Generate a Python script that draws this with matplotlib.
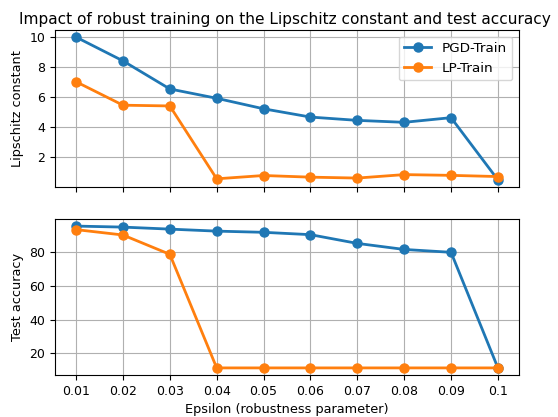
import numpy as np
import matplotlib
matplotlib.use("Agg")
import matplotlib.pyplot as plt

# Data
epsilons = [0.01, 0.02, 0.03, 0.04, 0.05, 0.06, 0.07, 0.08, 0.09, 0.1]
eps_labels = ["0.01", "0.02", "0.03", "0.04", "0.05", "0.06", "0.07", "0.08", "0.09", "0.1"]

lip_pgd = [10.0, 8.42, 6.55, 5.93, 5.23, 4.68, 4.46, 4.33, 4.64, 0.5]
lip_lp = [7.03, 5.47, 5.42, 0.57, 0.79, 0.68, 0.62, 0.85, 0.8, 0.72]

acc_pgd = [95.6, 95.0, 93.8, 92.6, 91.9, 90.5, 85.3, 81.7, 80.0, 11.2]
acc_lp = [93.5, 90.3, 78.8, 11.2, 11.2, 11.2, 11.2, 11.2, 11.2, 11.2]

W, H = 558, 417


def main():
    plt.rcParams["font.size"] = 9
    fig = plt.figure(figsize=(W / 100, H / 100), dpi=100)
    ax1 = fig.add_axes([55 / W, 1 - 187 / H, 464 / W, 157 / H])
    ax2 = fig.add_axes([55 / W, 1 - 375 / H, 464 / W, 156 / H], sharex=ax1)

    ax1.plot(epsilons, lip_pgd, marker="o", linewidth=2, markersize=6.5, label="PGD-Train")
    ax1.plot(epsilons, lip_lp, marker="o", linewidth=2, markersize=6.5, label="LP-Train")
    ax1.set_ylabel("Lipschitz constant", fontsize=9.3)
    fig.text(285 / W, 1 - 24 / H,
             "Impact of robust training on the Lipschitz constant and test accuracy",
             ha="center", va="baseline", fontsize=11.1)
    ax1.legend(loc="upper right", fontsize=9.7)
    ax1.grid(True)
    ax1.set_yticks([2, 4, 6, 8, 10])
    ax1.tick_params(labelbottom=False, labelsize=9)

    ax2.plot(epsilons, acc_pgd, marker="o", linewidth=2, markersize=6.5, label="PGD-Train")
    ax2.plot(epsilons, acc_lp, marker="o", linewidth=2, markersize=6.5, label="LP-Train")
    ax2.set_ylabel("Test accuracy", fontsize=9.3)
    ax2.set_xlabel("Epsilon (robustness parameter)", fontsize=9.3)
    ax2.set_yticks([20, 40, 60, 80])
    ax2.grid(True)
    ax2.set_xticks(epsilons)
    ax2.set_xticklabels(eps_labels)
    ax2.tick_params(labelsize=9)

    fig.savefig("out.png", dpi=100)


if __name__ == "__main__":
    main()
